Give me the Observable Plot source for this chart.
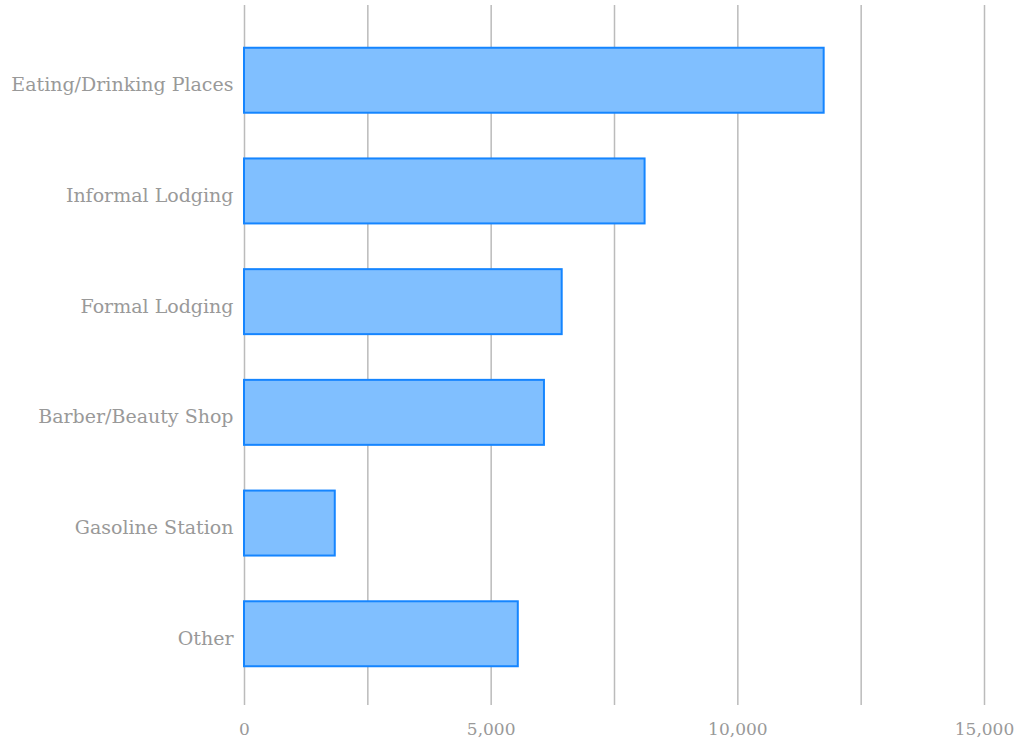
<!DOCTYPE html>
<html>
<head>
<meta charset="utf-8">
<script src="https://cdn.jsdelivr.net/npm/d3@7"></script>
<script src="https://cdn.jsdelivr.net/npm/@observablehq/plot@0.6"></script>
<style>
  html, body { margin: 0; padding: 0; background: #fff; }
  #chart svg { display: block; }
</style>
</head>
<body>
<div id="chart"></div>
<script>
const categories = ["Eating/Drinking Places", "Informal Lodging", "Formal Lodging", "Barber/Beauty Shop", "Gasoline Station", "Other"];
const values = [11750, 8120, 6440, 6080, 1840, 5550];
const gridTicks = [0, 2500, 5000, 7500, 10000, 12500, 15000];
const labelTicks = [0, 5000, 10000, 15000];

const data = categories.map((c, i) => ({category: c, value: values[i]}));

const serif = "'DejaVu Serif', serif";
const chart = Plot.plot({
  width: 1020,
  height: 744,
  marginLeft: 244,
  marginRight: 36,
  marginTop: 5,
  marginBottom: 39,
  style: {fontFamily: serif, fontSize: "17px", color: "#999", background: "#fff"},
  x: {domain: [0, 15000], ticks: labelTicks, tickFormat: d3.format(","), label: null},
  y: {domain: categories, range: [9, 705], round: false, paddingInner: 0.413, paddingOuter: 0.35, label: null},
  marks: [
    Plot.gridX(gridTicks, {stroke: "#bbb", strokeOpacity: 1, strokeWidth: 1.5}),
    Plot.barX(data, {x: "value", y: "category", fill: "#80bfff", stroke: "#1585ff", strokeWidth: 2}),
    Plot.axisX({ticks: labelTicks, tickSize: 0, tickPadding: 17, tickFormat: d3.format(","), fill: "#999", fontSize: 17, fontFamily: serif, label: null}),
    Plot.axisY({tickSize: 0, tickPadding: 11, fill: "#999", fontSize: 19, fontFamily: serif, dy: 4.5, label: null})
  ]
});
document.getElementById("chart").appendChild(chart);
</script>
</body>
</html>
